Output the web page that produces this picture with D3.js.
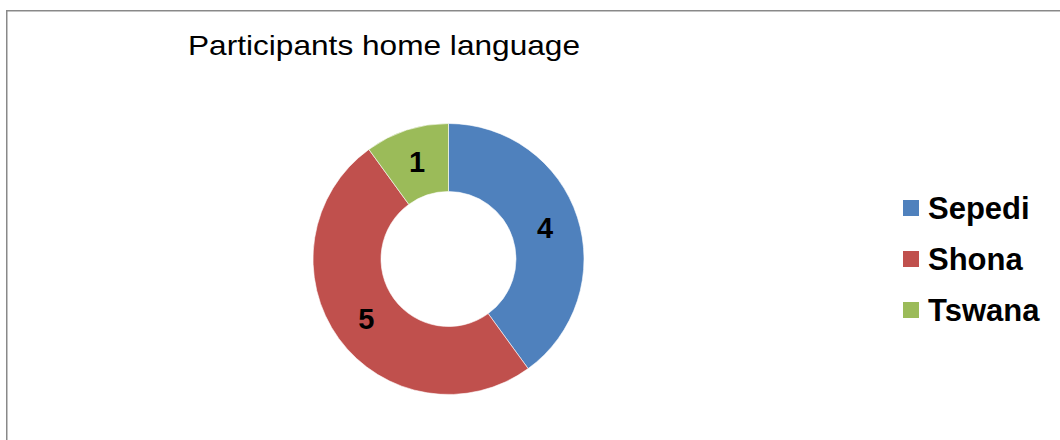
<!DOCTYPE html>
<html>
<head>
<meta charset="utf-8">
<script src="https://cdn.jsdelivr.net/npm/d3@7"></script>
<style>
  html, body { margin: 0; padding: 0; background: #fff; }
  svg { display: block; }
  text { font-family: Arial, "Liberation Sans", sans-serif; }
</style>
</head>
<body>
<svg id="chart" width="1060" height="440"></svg>
<script>
// Home language of participants
const languages = ["Sepedi", "Shona", "Tswana"];
const counts = [4, 5, 1];
const sliceColors = ["#4F81BD", "#C0504D", "#9BBB59"];
const chartTitle = "Participants home language";

const svg = d3.select("#chart");

// outer frame (runs past the right and bottom edges)
svg.append("rect")
  .attr("x", 6.75).attr("y", 10.75)
  .attr("width", 1100).attr("height", 480)
  .attr("fill", "none")
  .attr("stroke", "#898989")
  .attr("stroke-width", 1.5);

// title
svg.append("text")
  .attr("x", 188).attr("y", 55)
  .attr("font-size", 28)
  .attr("fill", "#000")
  .attr("textLength", 392)
  .attr("lengthAdjust", "spacingAndGlyphs")
  .text(chartTitle);

// doughnut
const cx = 448.5, cy = 259, outerR = 135.5, innerR = 67.5;
const color = d3.scaleOrdinal().domain(languages).range(sliceColors);
const pie = d3.pie().sort(null).value(d => d.value);
const data = languages.map((k, i) => ({ key: k, value: counts[i] }));
const arc = d3.arc().innerRadius(innerR).outerRadius(outerR);

const g = svg.append("g").attr("transform", `translate(${cx},${cy})`);
const arcs = pie(data);

g.selectAll("path.slice")
  .data(arcs)
  .join("path")
  .attr("class", "slice")
  .attr("d", arc)
  .attr("fill", d => color(d.data.key))
  .attr("stroke", "#fff")
  .attr("stroke-width", 0.6);

g.selectAll("text.value")
  .data(arcs)
  .join("text")
  .attr("class", "value")
  .attr("transform", d => `translate(${arc.centroid(d)})`)
  .attr("text-anchor", "middle")
  .attr("dominant-baseline", "central")
  .attr("font-size", 29)
  .attr("font-weight", "bold")
  .attr("fill", "#000")
  .text(d => d.data.value);

// legend
const legendY = d3.scalePoint().domain(languages).range([208, 310]);
const legend = svg.append("g");
const items = legend.selectAll("g.item")
  .data(languages)
  .join("g")
  .attr("class", "item")
  .attr("transform", d => `translate(903,${legendY(d)})`);

items.append("rect")
  .attr("x", 0).attr("y", -8)
  .attr("width", 16).attr("height", 16)
  .attr("fill", d => color(d));

items.append("text")
  .attr("x", 25).attr("y", 11)
  .attr("font-size", 31)
  .attr("font-weight", "bold")
  .attr("fill", "#000")
  .text(d => d);
</script>
</body>
</html>
